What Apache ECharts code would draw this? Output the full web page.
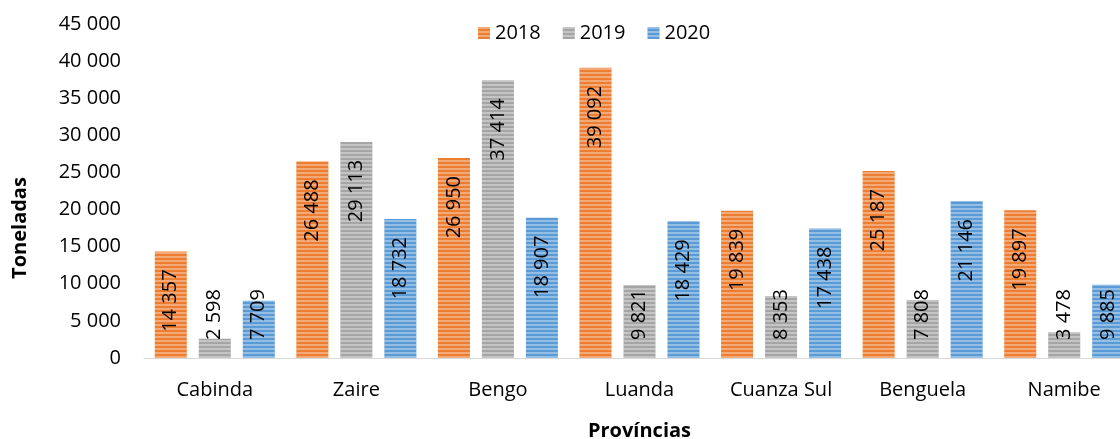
<!DOCTYPE html>
<html>
<head>
<meta charset="utf-8">
<script src="https://cdn.jsdelivr.net/npm/echarts@6/dist/echarts.min.js"></script>
<style>
  html, body { margin: 0; padding: 0; background: #fff; }
  #main { width: 1120px; height: 439px; }
</style>
</head>
<body>
<div id="main"></div>
<script>
// dados
var provincias = ['Cabinda', 'Zaire', 'Bengo', 'Luanda', 'Cuanza Sul', 'Benguela', 'Namibe'];
var anos = ['2018', '2019', '2020'];
var v2018 = [14357, 26488, 26950, 39092, 19839, 25187, 19897];
var v2019 = [2598, 29113, 37414, 9821, 8353, 7808, 3478];
var v2020 = [7709, 18732, 18907, 18429, 17438, 21146, 9885];
var cores = ['#ED7D31', '#A5A5A5', '#5B9BD5'];

var FONT = 'Open Sans';
var FS = 20;

// "14 357"
function fmt(v) {
    return String(v).replace(/\B(?=(\d{3})+(?!\d))/g, ' ');
}

function riscas() {
    return {
        symbol: 'rect',
        symbolSize: 1,
        color: 'rgba(255,255,255,0.35)',
        dashArrayX: [1, 0],
        dashArrayY: [2, 2],
        rotation: 0
    };
}

function serie(nome, dados, cor) {
    return {
        name: nome,
        type: 'bar',
        data: dados,
        barWidth: 32,
        barGap: '37.5%',
        itemStyle: {
            color: cor,
            decal: riscas()
        },
        label: {
            show: true,
            position: 'insideTop',
            rotate: 90,
            align: 'right',
            verticalAlign: 'middle',
            distance: 18,
            color: '#000',
            fontFamily: FONT,
            fontSize: FS,
            formatter: function (p) { return fmt(p.value); }
        },
        labelLayout: function (p) {
            // como no Excel: se nao cabe, sobe o rotulo acima da base
            var topo = p.rect.y + 18;
            var limite = p.rect.y + p.rect.height - 18 - p.labelRect.height;
            return {
                x: p.rect.x + p.rect.width / 2,
                y: Math.min(topo, limite)
            };
        }
    };
}

var chart = echarts.init(document.getElementById('main'));
chart.setOption({
    animation: false,
    textStyle: { fontFamily: FONT },
    legend: {
        top: 18,
        left: 473,
        itemWidth: 12,
        itemHeight: 12,
        itemGap: 22,
        icon: 'rect',
        textStyle: { fontSize: FS, color: '#000', fontFamily: FONT },
        data: anos
    },
    grid: {
        left: 144,
        right: -15,
        top: 24,
        bottom: 81,
        containLabel: false,
        outerBoundsMode: 'none'
    },
    xAxis: {
        type: 'category',
        data: provincias,
        name: 'Províncias',
        nameLocation: 'middle',
        nameGap: 63,
        nameTextStyle: { fontSize: FS, fontWeight: 'bold', color: '#000', fontFamily: FONT },
        axisLine: { lineStyle: { color: '#d9d9d9', width: 1 } },
        axisTick: { show: false },
        axisLabel: { color: '#000', fontSize: FS, margin: 22, fontFamily: FONT }
    },
    yAxis: {
        type: 'value',
        min: 0,
        max: 45000,
        interval: 5000,
        name: 'Toneladas',
        nameLocation: 'middle',
        nameGap: 114,
        nameTextStyle: {
            fontSize: FS, fontWeight: 'bold', color: '#000', fontFamily: FONT,
            padding: [0, 74, 0, 0]
        },
        splitLine: { show: false },
        axisLine: { show: false },
        axisTick: { show: false },
        axisLabel: {
            color: '#000',
            fontSize: FS,
            margin: 23,
            fontFamily: FONT,
            formatter: function (v) { return fmt(v); }
        }
    },
    series: [
        serie(anos[0], v2018, cores[0]),
        serie(anos[1], v2019, cores[1]),
        serie(anos[2], v2020, cores[2])
    ]
});
</script>
</body>
</html>
